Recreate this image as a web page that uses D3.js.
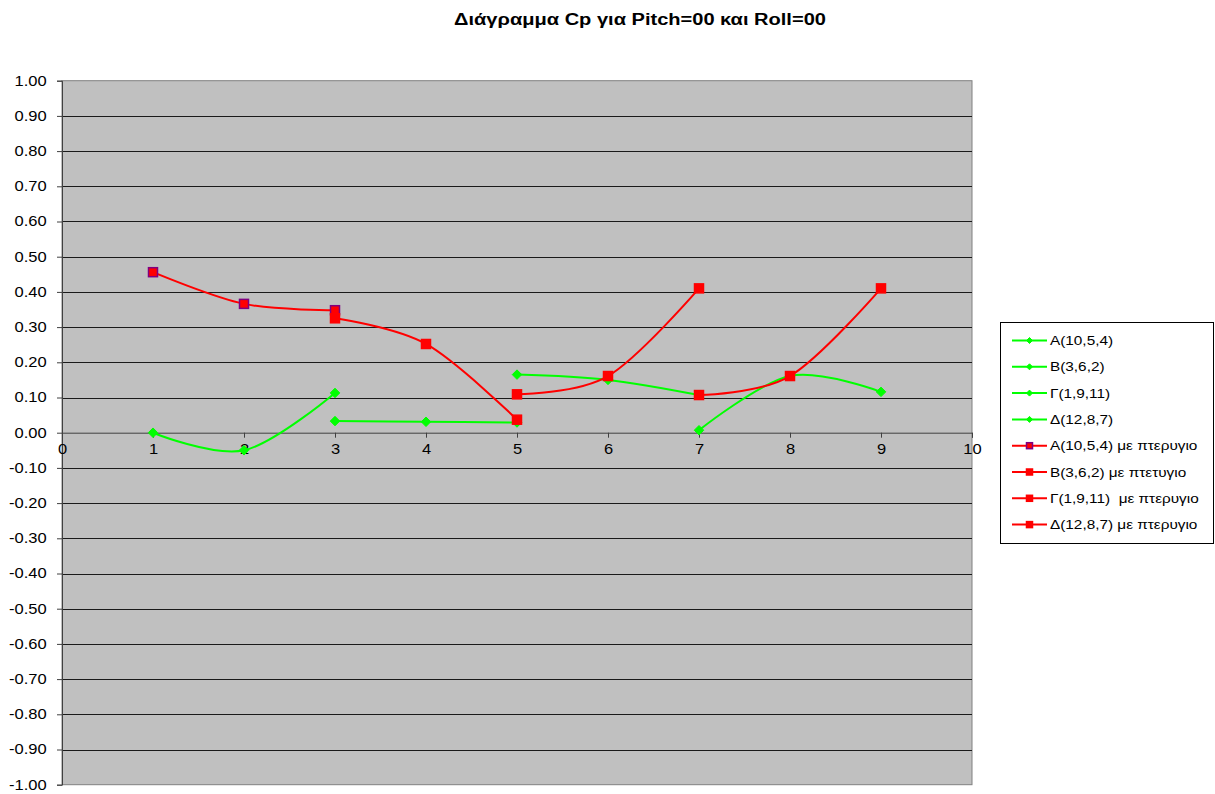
<!DOCTYPE html>
<html>
<head>
<meta charset="utf-8">
<script src="https://cdn.jsdelivr.net/npm/d3@7/dist/d3.min.js"></script>
<style>
  html, body { margin: 0; padding: 0; background: #fff; }
  svg text { font-family: "Liberation Sans", Arial, sans-serif; fill: #000; }
</style>
</head>
<body>
<svg id="chart" width="1215" height="794"></svg>
<script>
// Cp values per measurement position, without and with the fin
const titleText = "Διάγραμμα Cp για Pitch=00 και Roll=00";

const seriesNames = [
  "A(10,5,4)", "B(3,6,2)", "Γ(1,9,11)", "Δ(12,8,7)",
  "A(10,5,4) με πτερυγιο", "B(3,6,2) με πτετυγιο",
  "Γ(1,9,11)  με πτερυγιο", "Δ(12,8,7) με πτερυγιο"
];

const seriesX = [
  [1, 2, 3], [3, 4, 5], [5, 6, 7], [7, 8, 9],
  [1, 2, 3], [3, 4, 5], [5, 6, 7], [7, 8, 9]
];

const seriesValues = [
  [0.00, -0.05, 0.113],
  [0.033, 0.031, 0.029],
  [0.165, 0.150, 0.107],
  [0.007, 0.161, 0.116],
  [0.456, 0.366, 0.348],
  [0.325, 0.252, 0.037],
  [0.109, 0.161, 0.410],
  [0.107, 0.161, 0.410]
];

const seriesColor = ["#00ff00", "#00ff00", "#00ff00", "#00ff00",
                     "#ff0000", "#ff0000", "#ff0000", "#ff0000"];
const seriesMarker = ["diamond", "diamond", "diamond", "diamond",
                      "square", "square", "square", "square"];
const markerStroke = ["#00ff00", "#00ff00", "#00ff00", "#00ff00",
                      "#800080", "#ff0000", "#ff0000", "#ff0000"];

const xTicks = [0, 1, 2, 3, 4, 5, 6, 7, 8, 9, 10];
const yTicks = d3.range(-10, 11).map(d => d / 10);

// text is drawn slightly widened, like the original sheet export
const textStretch = 1.18;

const svg = d3.select("#chart");

const plot = { left: 62, right: 972, top: 80.7, bottom: 784.7 };
const x = d3.scaleLinear().domain([0, 10]).range([plot.left, plot.right]);
const y = d3.scaleLinear().domain([-1, 1]).range([plot.bottom, plot.top]);

// title
svg.append("text")
  .attr("transform", `translate(640,25) scale(${textStretch},1)`)
  .attr("text-anchor", "middle")
  .style("font-size", "17px").style("font-weight", "bold")
  .text(titleText);

// plot area
svg.append("rect")
  .attr("x", plot.left).attr("y", plot.top)
  .attr("width", plot.right - plot.left).attr("height", plot.bottom - plot.top)
  .attr("fill", "#c0c0c0").attr("stroke", "#808080").attr("stroke-width", 1);

// horizontal gridlines
svg.append("g").selectAll("line")
  .data(yTicks.filter(d => d !== 0 && d !== -1 && d !== 1))
  .join("line")
  .attr("x1", plot.left).attr("x2", plot.right)
  .attr("y1", d => Math.round(y(d)) + 0.5).attr("y2", d => Math.round(y(d)) + 0.5)
  .attr("stroke", "#1a1a1a").attr("stroke-width", 1);

// y axis
const yAxis = svg.append("g")
  .attr("transform", `translate(${plot.left},0)`)
  .call(d3.axisLeft(y).tickValues(yTicks).tickFormat(d3.format(".2f")).tickSize(5).tickPadding(8));
yAxis.select(".domain").attr("stroke", "#404040");
yAxis.selectAll(".tick line").attr("stroke", "#404040");
yAxis.selectAll("text").style("font-size", "14px")
  .attr("transform", `scale(${textStretch},1)`)
  .text(d => d3.format(".2f")(d).replace("−", "-"));

// x axis crossing at zero
const xAxis = svg.append("g")
  .attr("transform", `translate(0,${y(0)})`)
  .call(d3.axisBottom(x).tickValues(xTicks).tickFormat(d3.format("d")).tickSize(5).tickPadding(6));
xAxis.select(".domain").attr("stroke", "#404040");
xAxis.selectAll(".tick line").attr("stroke", "#404040");
xAxis.selectAll("text").style("font-size", "14px")
  .attr("transform", `scale(${textStretch},1)`);

// series lines
const line = d3.line()
  .x(d => x(d[0])).y(d => y(d[1]))
  .curve(d3.curveCardinal.tension(0));

const seriesData = seriesNames.map((name, i) =>
  seriesX[i].map((xv, j) => [xv, seriesValues[i][j]]));

const lines = svg.append("g");
seriesData.forEach((pts, i) => {
  lines.append("path")
    .datum(pts)
    .attr("d", line)
    .attr("fill", "none")
    .attr("stroke", seriesColor[i])
    .attr("stroke-width", 2);
});

function drawMarker(sel, type, cx, cy, size, fill, stroke) {
  if (type === "diamond") {
    const r = size / 2;
    sel.append("path")
      .attr("d", `M${cx},${cy - r}L${cx + r},${cy}L${cx},${cy + r}L${cx - r},${cy}Z`)
      .attr("fill", fill).attr("stroke", stroke).attr("stroke-width", 1);
  } else {
    sel.append("rect")
      .attr("x", cx - size / 2).attr("y", cy - size / 2)
      .attr("width", size).attr("height", size)
      .attr("fill", fill).attr("stroke", stroke).attr("stroke-width", 1.5);
  }
}

// markers, drawn per series so later series sit on top
seriesData.forEach((pts, i) => {
  const g = svg.append("g");
  pts.forEach(p => {
    drawMarker(g, seriesMarker[i], x(p[0]), y(p[1]),
      seriesMarker[i] === "diamond" ? 9.5 : 9, seriesColor[i], markerStroke[i]);
  });
});

// legend
const legend = svg.append("g");
legend.append("rect")
  .attr("x", 1000.5).attr("y", 322.5).attr("width", 213).attr("height", 221)
  .attr("fill", "#fff").attr("stroke", "#000").attr("stroke-width", 1);

seriesNames.forEach((name, i) => {
  const ly = 340.5 + i * 26.3;
  legend.append("line")
    .attr("x1", 1012).attr("x2", 1047).attr("y1", ly).attr("y2", ly)
    .attr("stroke", seriesColor[i]).attr("stroke-width", 2);
  drawMarker(legend, seriesMarker[i], 1029.5, ly, 6, seriesColor[i], markerStroke[i]);
  legend.append("text")
    .attr("transform", `translate(1050,${ly + 4.5}) scale(${textStretch},1)`)
    .style("font-size", "13px")
    .style("white-space", "pre")
    .attr("xml:space", "preserve")
    .text(name);
});
</script>
</body>
</html>
